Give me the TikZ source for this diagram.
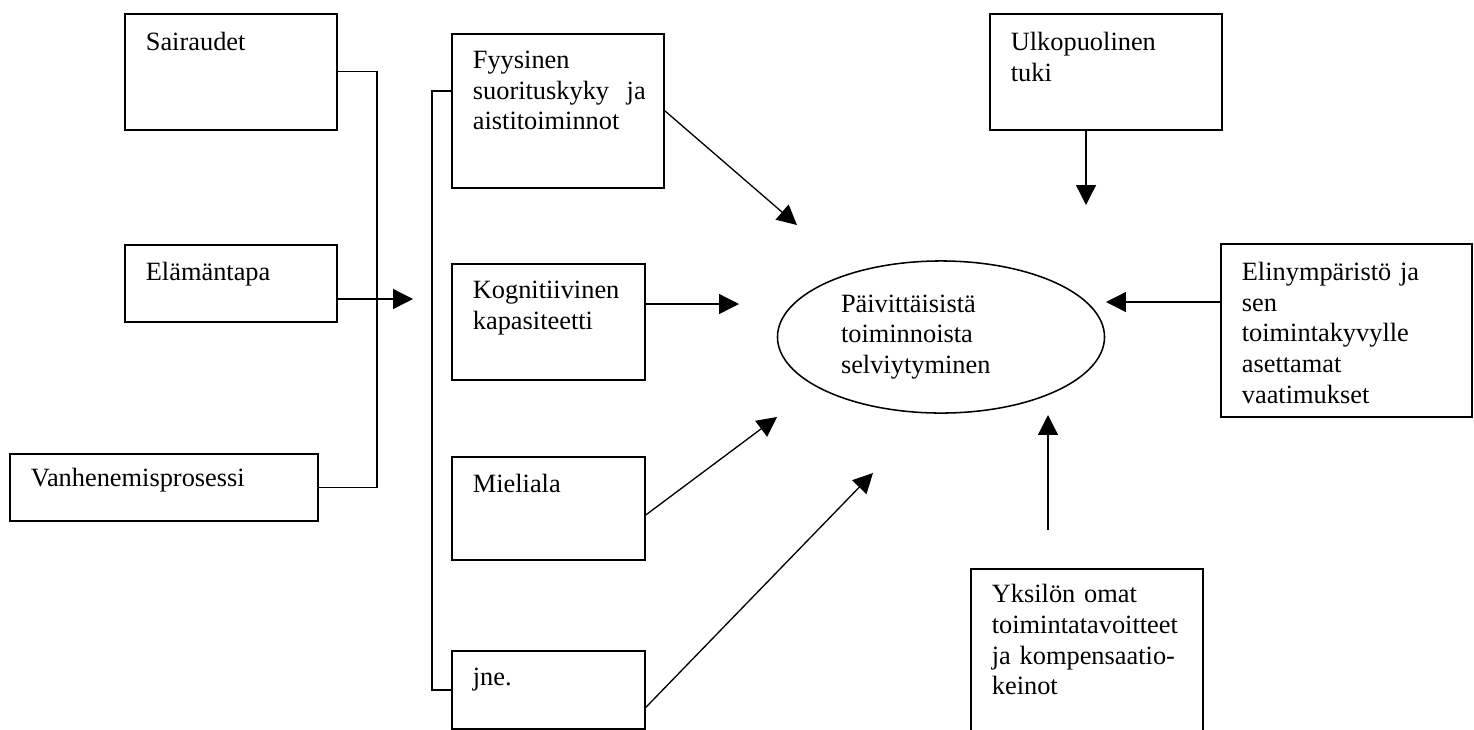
\documentclass[tikz,border=0pt]{standalone}
\usepackage{fontspec}
\setmainfont{Liberation Serif}
\usetikzlibrary{arrows.meta,shapes.geometric}
\tikzset{
  box/.style={draw, line width=0.8pt, anchor=north west, inner xsep=9.55pt, inner ysep=0pt, align=left},
  arr/.style={-{Triangle[length=9pt,width=9pt]}, line width=0.6pt},
  link/.style={line width=0.6pt},
}
\begin{document}
\begin{tikzpicture}[x=0.455pt, y=-0.455pt, font=\fontsize{12}{13.9}\selectfont]
\useasboundingbox (0,0) rectangle (1474,729);
\clip (0,0) rectangle (1474,729);

\node[box, text width=77.4pt, text height=16.8pt, text depth=35.9pt] (sair) at (124,13) {Sairaudet};
\node[box, text width=77.4pt, text height=16.4pt, text depth=18.7pt] (elam) at (124,244) {Elämäntapa};
\node[box, text width=121pt, text height=15pt, text depth=15.5pt] (vanh) at (9,453) {Vanhenemisprosessi};

\node[box, text width=77.4pt, text height=15.9pt, text depth=54.1pt] (fyys) at (451,33) {Fyysinen\\ suorituskyky~~ja\\ aistitoiminnot};
\node[box, text width=68.7pt, text height=15.9pt, text depth=36.9pt] (kogn) at (451,263) {Kognitiivinen\\ kapasiteetti};
\node[box, text width=68.7pt, text height=16.4pt, text depth=30.5pt] (miel) at (451,456) {Mieliala};
\node[box, text width=68.7pt, text height=15.9pt, text depth=19.6pt] (jne) at (451,650) {jne.};

\node[ellipse, draw, line width=0.7pt, inner sep=0pt, minimum width=148.8pt, minimum height=69.2pt, text width=91pt, align=left] (selv) at (941,337) {Päivittäisistä\\ toiminnoista\\ selviytyminen};

\node[box, text width=86.5pt, text height=16.8pt, text depth=35.9pt] (ulko) at (989,13) {Ulkopuolinen\\ tuki};
\node[box, text width=95.1pt, text height=16.8pt, text depth=61.9pt] (elin) at (1220,243) {Elinympäristö ja\\ sen\\ toimintakyvylle\\ asettamat\\ vaatimukset};
\node[box, text width=86.5pt, text height=15.5pt, text depth=75.5pt] (yksi) at (970,568) {Yksilön omat\\ toimintatavoitteet\\ ja kompensaatio-\\ keinot};

\coordinate (elamtip) at (413,299);
\coordinate (fyystip) at (797,225);
\coordinate (kogntip) at (739,304);
\coordinate (mieltip) at (777,417);
\coordinate (jnetip) at (873,473);
\coordinate (ulkotip) at (1086,205);
\coordinate (elintip) at (1106,302);
\coordinate (yksistart) at (1048,530);
\coordinate (yksitip) at (1048,415);

\draw[link] (sair.east) -- ++(39,0) |- (vanh.east);
\draw[link] (jne.west) -- ++(-19,0) |- ([yshift=9pt]fyys.west);

\draw[arr] (elam.east |- elamtip) -- (elamtip);
\draw[arr] (fyys.east) -- (fyystip);
\draw[arr] (kogn.east |- kogntip) -- (kogntip);
\draw[arr] ([yshift=-3pt]miel.east) -- (mieltip);
\draw[arr] ([yshift=-8pt]jne.east) -- (jnetip);
\draw[arr] (ulko.south -| ulkotip) -- (ulkotip);
\draw[arr] (elin.west |- elintip) -- (elintip);
\draw[arr] (yksistart) -- (yksitip);
\end{tikzpicture}
\end{document}
